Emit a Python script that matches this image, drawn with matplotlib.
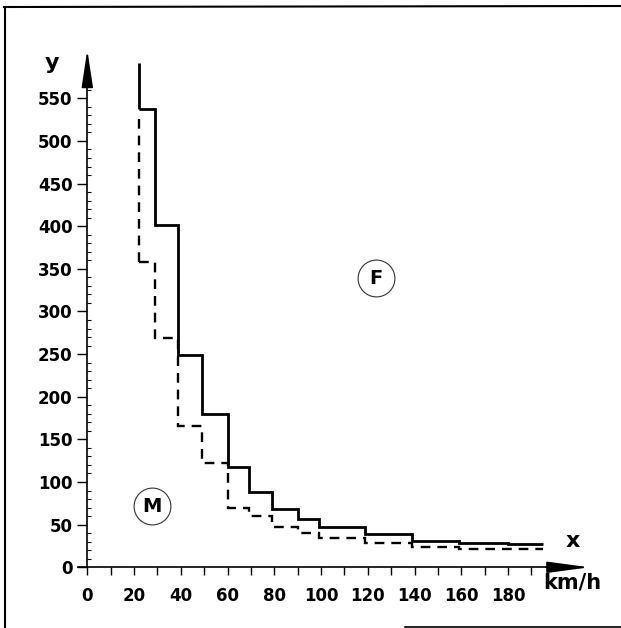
import numpy as np
import matplotlib
matplotlib.use("Agg")
import matplotlib.pyplot as plt
from matplotlib.lines import Line2D
from matplotlib.ticker import FixedLocator

# Klassengrenzen (km/h) und Häufigkeiten
edges = [22, 29, 39, 49, 60, 69, 79, 90, 99, 119, 139, 159, 180, 195]
solid_vals = [537, 401, 249, 180, 118, 88, 68, 57, 47, 39, 31, 29, 27]
dashed_vals = [358, 269, 166, 122, 69, 60, 47, 40, 34, 29, 24, 22, 21]
solid_top = 591
dashed_top = 530

xticks = list(range(0, 181, 20))
yticks = list(range(0, 551, 50))

plt.rcParams["font.family"] = "DejaVu Sans"
plt.rcParams["lines.scale_dashes"] = False

W, H = 621, 628
fig = plt.figure(figsize=(W / 100, H / 100), dpi=100)

# pixel scale
x0px, sx = 87.3, (508 - 87.3) / 180
y0px, sy = 567.3, (567.3 - 98.3) / 550

left_px, right_px, top_px, bot_px = 10, 611, 10, 620
ax = fig.add_axes([left_px / W, (H - bot_px) / H, (right_px - left_px) / W, (bot_px - top_px) / H])
ax.set_xlim((left_px - x0px) / sx, (right_px - x0px) / sx)
ax.set_ylim((y0px - bot_px) / sy, (y0px - top_px) / sy)

# Treppenkurven
ax.stairs(solid_vals, edges, baseline=None, color="black", lw=2.0)
ax.vlines(edges[0], solid_vals[0], solid_top, color="black", lw=2.0)
ax.stairs(dashed_vals, edges, baseline=None, color="black", lw=1.7,
          linestyle=(0, (7, 5)))
ax.vlines(edges[0], dashed_vals[0], dashed_top, color="black", lw=1.7,
          linestyle=(0, (7, 5)))

# Achsen
for s in ["top", "right"]:
    ax.spines[s].set_visible(False)
ax.spines["left"].set_position(("data", 0))
ax.spines["bottom"].set_position(("data", 0))
ax.spines["left"].set_bounds(0, 575)
ax.spines["bottom"].set_bounds(-4, 205)
ax.spines["left"].set_linewidth(1.2)
ax.spines["bottom"].set_linewidth(1.2)

ax.annotate("", xy=(0, 610), xytext=(0, 565),
            arrowprops=dict(arrowstyle="-|>,head_length=2.3,head_width=0.35",
                            color="black", lw=1.2, mutation_scale=10))
ax.annotate("", xy=(216, 0), xytext=(195, 0),
            arrowprops=dict(arrowstyle="-|>,head_length=2.6,head_width=0.35",
                            color="black", lw=1.2, mutation_scale=10))

ax.set_xticks(xticks)
ax.set_yticks(yticks)
ax.xaxis.set_minor_locator(FixedLocator(np.arange(10, 200, 10)))
ax.yaxis.set_minor_locator(FixedLocator(np.arange(10, 580, 10)))
ax.tick_params(axis="y", which="major", direction="out", length=7, width=1, pad=3.5,
               labelsize=12)
ax.tick_params(axis="y", which="minor", direction="in", length=3, width=0.8)
ax.tick_params(axis="x", which="both", direction="out", length=5.5, width=1, pad=9,
               labelsize=12)
for lab in ax.get_xticklabels() + ax.get_yticklabels():
    lab.set_fontweight("bold")

# Beschriftungen
ax.text((52 - x0px) / sx, (y0px - 63) / sy, "y", fontsize=16, fontweight="bold",
        ha="center", va="center")
ax.text((573 - x0px) / sx, (y0px - 541) / sy, "x", fontsize=16, fontweight="bold",
        ha="center", va="center")
ax.text((572 - x0px) / sx, (y0px - 583) / sy, "km/h", fontsize=15, fontweight="bold",
        ha="center", va="center")

for lbl, px, py in [("F", 376, 278), ("M", 152, 506)]:
    xd, yd = (px - x0px) / sx, (y0px - py) / sy
    ax.plot([xd], [yd], marker="o", markersize=26.5, fillstyle="none",
            markeredgecolor="#333333", markeredgewidth=0.8, linestyle="none")
    ax.text(xd, yd, lbl, fontsize=14, fontweight="bold", ha="center", va="center")

# Rahmen
fig.add_artist(Line2D([4 / W, 621 / W], [1 - 7 / H, 1 - 6 / H], color="black", lw=1.5))
fig.add_artist(Line2D([5 / W, 5 / W], [1 - 7 / H, 0], color="black", lw=1.5))
fig.add_artist(Line2D([405 / W, 621 / W], [1.5 / H, 1.5 / H], color="black", lw=1.2))

fig.savefig("out.png", dpi=100)
